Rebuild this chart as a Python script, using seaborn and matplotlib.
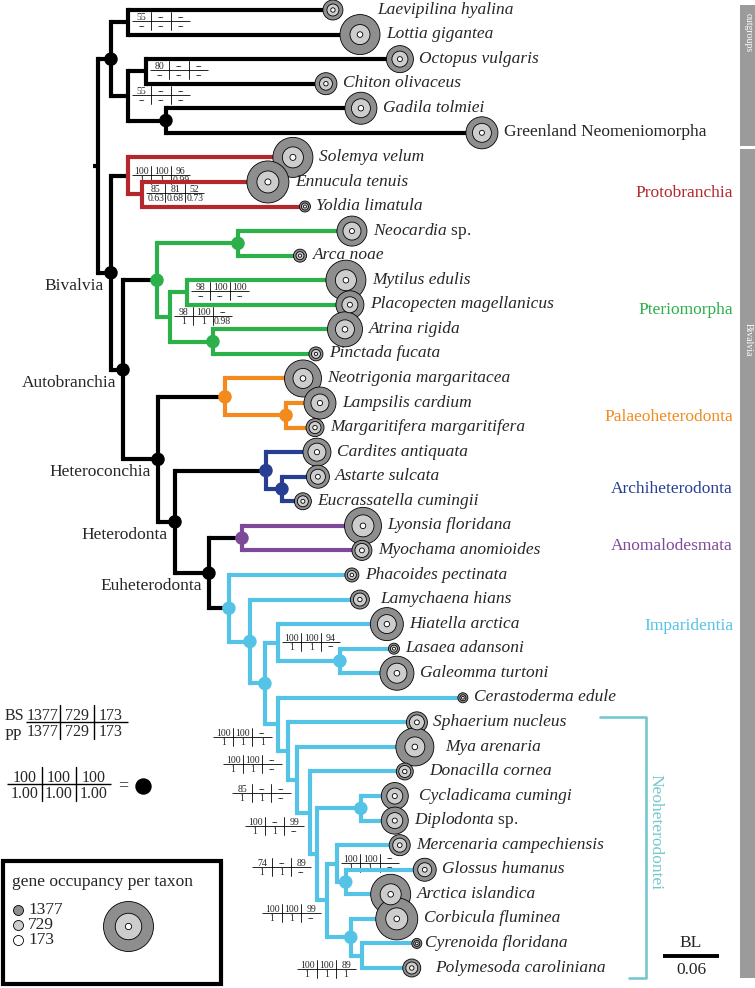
import re
import numpy as np
import matplotlib
matplotlib.use("Agg")
import matplotlib.pyplot as plt
import matplotlib.transforms as mtransforms
from matplotlib.patches import Rectangle
import seaborn as sns

# ---------------------------------------------------------------- data
# tree, branch lengths in substitutions/site (read against the 0.06 bar)
nw_out = ("((Laevipilina_hyalina:0.2197,Lottia_gigantea:0.2487)LL:0.0182,"
          "((Octopus_vulgaris:0.2722,Chiton_olivaceus:0.1929)OC:0.0193,"
          "(Gadila_tolmiei:0.2090,Greenland_Neomeniomorpha:0.3387)GG:0.0407)B:0.0182)OG:0.0139")
nw_proto = ("(Solemya_velum:0.1768,(Ennucula_tenuis:0.1350,Yoldia_limatula:0.1747)EY:0.0150)"
            "Protobranchia:0.0182")
nw_pterio = ("((Neocardia_sp.:0.1222,Arca_noae:0.0665)NA:0.0868,"
             "((Mytilus_edulis:0.1704,Placopecten_magellanicus:0.1747)MP:0.0182,"
             "(Atrina_rigida:0.1415,Pinctada_fucata:0.1104)AP:0.0461)PT:0.0139)Pteriomorpha:0.0364")
nw_neo = ("(Cerastoderma_edule:0.1983,(Sphaerium_nucleus:0.1383,(Mya_arenaria:0.1265,"
          "(Donacilla_cornea:0.1018,((Cycladicama_cumingi:0.0364,Diplodonta_sp.:0.0364)CD:0.0472,"
          "((Mercenaria_campechiensis:0.0675,(Glossus_humanus:0.0847,Arctica_islandica:0.0482)GA:0.0096)V:0.0107,"
          "(Corbicula_fluminea:0.0493,(Cyrenoida_floridana:0.0590,Polymesoda_caroliniana:0.0536)CP:0.0118)C:0.0257)"
          "N6:0.0107)N5:0.0075)N4:0.0139)N3:0.0096)N2:0.0107)Neoheterodontei:0.0139")
nw_impar = ("(Phacoides_pectinata:0.1318,(Lamychaena_hians:0.1179,"
            "((Hiatella_arctica:0.1168,(Lasaea_adansoni:0.0579,Galeomma_turtoni:0.0611)LG:0.0665)HC:0.0139,"
            + nw_neo + ")I3:0.0161)I2:0.0225)Imparidentia:0.0214")
nw_het = ("((Neotrigonia_margaritacea:0.0836,(Lampsilis_cardium:0.0364,"
          "Margaritifera_margaritifera:0.0311)LM:0.0654)Palaeoheterodonta:0.0718,"
          "((Cardites_antiquata:0.0547,(Astarte_sulcata:0.0386,Eucrassatella_cumingii:0.0225)AE:0.0171)"
          "Archiheterodonta:0.0975,((Lyonsia_floridana:0.1297,Myochama_anomioides:0.1286)Anomalodesmata:0.0354,"
          + nw_impar + ")Euheterodonta:0.0364)Heterodonta:0.0182)Heteroconchia:0.0375")
tree_newick = ("(" + nw_out + ",(" + nw_proto + ",(" + nw_pterio + "," + nw_het
               + ")Autobranchia:0.0129)Bivalvia:0.0139)root;")

# genes per taxon in the three matrices (tips in tree order, top to bottom)
genes_1377 = [551, 1102, 744, 606, 882, 882, 1102, 1157, 303, 827, 358, 1102, 771, 964,
              386, 1019, 882, 496, 771, 634, 468, 1019, 551, 386, 523, 909, 303, 937,
              276, 579, 1047, 468, 744, 744, 579, 634, 1102, 1157, 276, 496]
genes_729 = [331, 551, 441, 358, 523, 523, 579, 606, 193, 496, 220, 579, 441, 523,
             248, 551, 496, 331, 496, 413, 303, 606, 386, 248, 358, 523, 193, 551,
             165, 413, 551, 331, 441, 441, 386, 386, 579, 606, 165, 331]
genes_173 = [121, 154, 138, 121, 149, 138, 165, 165, 83, 138, 88, 154, 138, 154,
             88, 154, 143, 121, 143, 132, 110, 154, 132, 99, 121, 149, 83, 154,
             77, 132, 154, 121, 138, 138, 127, 132, 154, 154, 77, 121]

clade_colors = {"Protobranchia": "#b3272d", "Pteriomorpha": "#2bb04a",
                "Palaeoheterodonta": "#f28a1e", "Archiheterodonta": "#263f93",
                "Anomalodesmata": "#7d4a9a", "Imparidentia": "#55c3e5"}

# nodes with 100/100/100 and 1.00/1.00/1.00
full_support = ["OG", "GG", "Bivalvia", "Autobranchia", "Pteriomorpha", "NA", "AP",
                "Heteroconchia", "Palaeoheterodonta", "LM", "Heterodonta", "Archiheterodonta",
                "AE", "Euheterodonta", "Anomalodesmata", "Imparidentia", "I2", "I3", "LG",
                "CD", "GA", "C"]

# other nodes: BS (1377 | 729 | 173) over PP (1377 | 729 | 173)
support_nodes = ["LL", "OC", "B", "Protobranchia", "EY", "MP", "PT", "HC",
                 "Neoheterodontei", "N2", "N3", "N4", "N5", "N6", "V", "CP"]
support_bs = [("55", "--", "--"), ("80", "--", "--"), ("55", "--", "--"), ("100", "100", "96"),
              ("85", "81", "52"), ("98", "100", "100"), ("98", "100", "--"), ("100", "100", "94"),
              ("100", "100", "--"), ("100", "100", "--"), ("85", "--", "--"), ("100", "--", "99"),
              ("74", "--", "89"), ("100", "100", "99"), ("100", "100", "--"), ("100", "100", "89")]
support_pp = [("--", "--", "--"), ("--", "--", "--"), ("--", "--", "--"), ("1", "1", "0.99"),
              ("0.63", "0.68", "0.73"), ("--", "--", "--"), ("1", "1", "0.98"), ("1", "1", "--"),
              ("1", "1", "1"), ("1", "1", "--"), ("1", "1", "--"), ("1", "1", "--"),
              ("1", "1", "--"), ("1", "1", "--"), ("1", "1", "--"), ("1", "1", "1")]
support_side = ["r", "r", "r", "r", "r", "r", "r", "r",
                "l", "l", "l", "l", "l", "l", "r", "l"]

node_tags = ["Bivalvia", "Autobranchia", "Heteroconchia", "Heterodonta", "Euheterodonta"]
group_names = ["Protobranchia", "Pteriomorpha", "Palaeoheterodonta",
               "Archiheterodonta", "Anomalodesmata", "Imparidentia"]
group_label_y = [193, 310, 417, 489, 546, 626]

scale_value = 0.06
full_genes = 1377

# extra room (px) given to a few tip labels in the original layout
label_nudge = {"Laevipilina hyalina": 28, "Donacilla cornea": 10, "Mya arenaria": 5,
               "Polymesoda caroliniana": 8, "Lamychaena hians": 5, "Cycladicama cumingi": 5,
               "Cyrenoida floridana": -3}


# ---------------------------------------------------------------- tree parsing
def parse_newick(s):
    s = re.sub(r"\s+", "", s).rstrip(";")
    pos = 0

    def node():
        nonlocal pos
        n = {"children": []}
        if s[pos] == "(":
            pos += 1
            while True:
                n["children"].append(node())
                if s[pos] == ",":
                    pos += 1
                else:
                    break
            pos += 1
        m = re.match(r"[^:,();]*", s[pos:])
        n["name"] = m.group(0).replace("_", " ")
        pos += len(m.group(0))
        n["bl"] = 0.0
        if pos < len(s) and s[pos] == ":":
            m = re.match(r":([0-9.eE+-]+)", s[pos:])
            n["bl"] = float(m.group(1))
            pos += len(m.group(0))
        return n

    return node()


tree = parse_newick(tree_newick)
tips, nodes = [], {}


def layout(n, x0, col):
    n["x"] = x0 + n["bl"]
    n["col"] = clade_colors.get(n["name"], col)
    if not n["children"]:
        n["y"] = len(tips)
        tips.append(n)
    else:
        for c in n["children"]:
            layout(c, n["x"], n["col"])
        n["y"] = 0.5 * (n["children"][0]["y"] + n["children"][-1]["y"])
    nodes[n["name"]] = n


layout(tree, 0.0, "black")

# ---------------------------------------------------------------- figure
sns.set_theme(style="white")
plt.rcParams["font.family"] = ["Liberation Serif", "DejaVu Serif"]
plt.rcParams["mathtext.fontset"] = "custom"
plt.rcParams["mathtext.it"] = "Liberation Serif:italic"
plt.rcParams["mathtext.rm"] = "Liberation Serif"

W, H = 755, 988
fig = plt.figure(figsize=(W / 100, H / 100), dpi=100)
ax_px = fig.add_axes([0, 0, 1, 1])
ax_px.set_xlim(0, W)
ax_px.set_ylim(H, 0)
ax_px.axis("off")

ax = fig.add_axes([0, 0, 1, 1], facecolor="none")
px_per_bl, root_px = 933.0, 98.0
tip_top, tip_step = 10.0, 24.564
ax.set_xlim(-root_px / px_per_bl, (W - root_px) / px_per_bl)
ax.set_ylim((H - tip_top) / tip_step, -tip_top / tip_step)
ax.axis("off")


def to_px(x, y):
    d = ax.transData.transform((x, y))
    return d[0], H - d[1]


LW = 3.0
for n in nodes.values():
    if not n["children"]:
        continue
    ys = [c["y"] for c in n["children"]]
    ax.plot([n["x"], n["x"]], [min(ys), max(ys)], color=n["col"], lw=LW,
            solid_capstyle="projecting", zorder=3)
    for c in n["children"]:
        ax.plot([n["x"], c["x"]], [c["y"], c["y"]], color=n["col"], lw=LW,
                solid_capstyle="butt", zorder=2)
# root stub
ax.plot([tree["x"] - 5 / px_per_bl, tree["x"]], [tree["y"], tree["y"]], color="black",
        lw=LW, solid_capstyle="butt", zorder=2)

# full-support dots
sns.scatterplot(x=[nodes[k]["x"] for k in full_support], y=[nodes[k]["y"] for k in full_support],
                s=95, c=[nodes[k]["col"] for k in full_support],
                edgecolor="none", linewidth=0, ax=ax, zorder=5, legend=False)

# gene-occupancy circles
tip_x = np.array([t["x"] for t in tips])
tip_y = np.array([t["y"] for t in tips])
R_FULL = 25.0  # px radius of a taxon with all 1377 genes
for vals, col, z in [(genes_1377, "#8e8e8e", 6), (genes_729, "#cdcdcd", 7), (genes_173, "white", 8)]:
    r = np.array(vals) / full_genes * R_FULL
    sns.scatterplot(x=tip_x, y=tip_y, s=(2 * r * 0.72) ** 2, color=col, edgecolor="black",
                    linewidth=0.6, ax=ax, zorder=z, legend=False)

# tip labels, just right of each taxon's outer circle (baseline ~3.6 px below the tip)
rad = np.array(genes_1377) / full_genes * R_FULL
for i, t in enumerate(tips):
    off = (rad[i] + 6 + label_nudge.get(t["name"], 0)) * 0.72
    name = t["name"]
    style = "italic"
    if name.endswith(" sp."):
        name = r"$\mathit{" + name[:-4] + "}$ sp."
        style = "normal"
    elif name.startswith("Greenland"):
        style = "normal"
    ax.annotate(name, xy=(t["x"], t["y"]), xytext=(off, -3.6 * 0.72), textcoords="offset points",
                ha="left", va="baseline", fontsize=12.5, fontstyle=style, zorder=9)


# support tables
def draw_table(x0, ydiv, top, bottom, cell, fs, half_h, lw=0.6, gap=1.0):
    k = len(top)
    ax_px.plot([x0, x0 + k * cell], [ydiv, ydiv], color="black", lw=lw, solid_capstyle="butt")
    for j in range(1, k):
        ax_px.plot([x0 + j * cell] * 2, [ydiv - half_h, ydiv + half_h], color="black", lw=lw)
    for j, (a, b) in enumerate(zip(top, bottom)):
        cx = x0 + (j + 0.5) * cell
        ax_px.text(cx, ydiv - gap, a, ha="center", va="baseline", fontsize=fs)
        ax_px.text(cx, ydiv + gap, b, ha="center", va="top", fontsize=fs)


CELL = 19.5
for name, bs, pp, side in zip(support_nodes, support_bs, support_pp, support_side):
    nx, ny = to_px(nodes[name]["x"], nodes[name]["y"])
    if side == "r":
        draw_table(nx + 4, ny - 1, bs, pp, CELL, 7, 9)
    else:
        draw_table(nx - 6 - 3 * CELL, ny + 13, bs, pp, CELL, 7, 9)

# named backbone nodes
for name in node_tags:
    ax.annotate(name, xy=(nodes[name]["x"], nodes[name]["y"]), xytext=(-7 * 0.72, -13 * 0.72),
                textcoords="offset points", ha="right", va="center", fontsize=12.5, zorder=9)

# clade names on the right
for name, y in zip(group_names, group_label_y):
    ax_px.text(733, y, name, ha="right", va="center", fontsize=12.5, color=clade_colors[name])

# grey side bars
ax_px.add_patch(Rectangle((740, 5), 15, 141, color="#9b9b9b", lw=0))
ax_px.add_patch(Rectangle((740, 149), 15, 829, color="#9b9b9b", lw=0))
ax_px.text(748, 33, "outgroups", rotation=270, ha="center", va="center", fontsize=7, color="white")
ax_px.text(748, 340, "Bivalvia", rotation=270, ha="center", va="center", fontsize=7, color="white")

# Neoheterodontei bracket
br_col = "#74c7cf"
ax_px.plot([600, 646, 646, 629], [717, 717, 978, 978], color=br_col, lw=1.9)
ax_px.text(655, 832, "Neoheterodontei", rotation=270, ha="center", va="center",
           fontsize=12.5, color=br_col)

# scale bar
bl_tr = mtransforms.blended_transform_factory(ax.transData, ax_px.transData)
x_bar = (663 - root_px) / px_per_bl
ax.plot([x_bar, x_bar + scale_value], [956, 956], transform=bl_tr, color="black", lw=2.8,
        solid_capstyle="butt")
ax.text(x_bar + scale_value / 2, 947, "BL", transform=bl_tr, ha="center", va="baseline", fontsize=12.5)
ax.text(x_bar + scale_value / 2, 962, f"{scale_value:.2f}", transform=bl_tr, ha="center",
        va="top", fontsize=12.5)

# support key
ax_px.text(5, 720, "BS", ha="left", va="baseline", fontsize=11.5)
ax_px.text(5, 740, "PP", ha="left", va="baseline", fontsize=11.5)
draw_table(26, 722, ("1377", "729", "173"), ("1377", "729", "173"), 34, 11.5, 17, lw=1.0, gap=2)
draw_table(7, 784, ("100", "100", "100"), ("1.00", "1.00", "1.00"), 34.5, 11.5, 17, lw=1.0, gap=2)
ax_px.text(123, 786, "=", ha="center", va="center", fontsize=13)
ax_px.scatter([143], [786], s=(15 * 0.72) ** 2, color="black", zorder=5)

# gene occupancy key
ax_px.add_patch(Rectangle((3, 861), 218, 123, facecolor="white", edgecolor="black", lw=3, zorder=4))
ax_px.text(12, 882, "gene occupancy per taxon", ha="left", va="center", fontsize=12.5, zorder=5)
for val, col, y in zip([1377, 729, 173], ["#8e8e8e", "#cdcdcd", "white"], [910, 925, 940]):
    ax_px.scatter([18], [y], s=(10 * 0.72) ** 2, color=col, edgecolor="black", lw=0.6, zorder=5)
    ax_px.text(28, y, str(val), ha="left", va="center", fontsize=12.5, zorder=5)
for val, col, z in zip([1377, 729, 173], ["#8e8e8e", "#cdcdcd", "white"], [6, 7, 8]):
    r = val / full_genes * R_FULL
    ax_px.scatter([128], [926], s=(2 * r * 0.72) ** 2, color=col, edgecolor="black", lw=0.6, zorder=z)

fig.savefig("out.png", dpi=100)
